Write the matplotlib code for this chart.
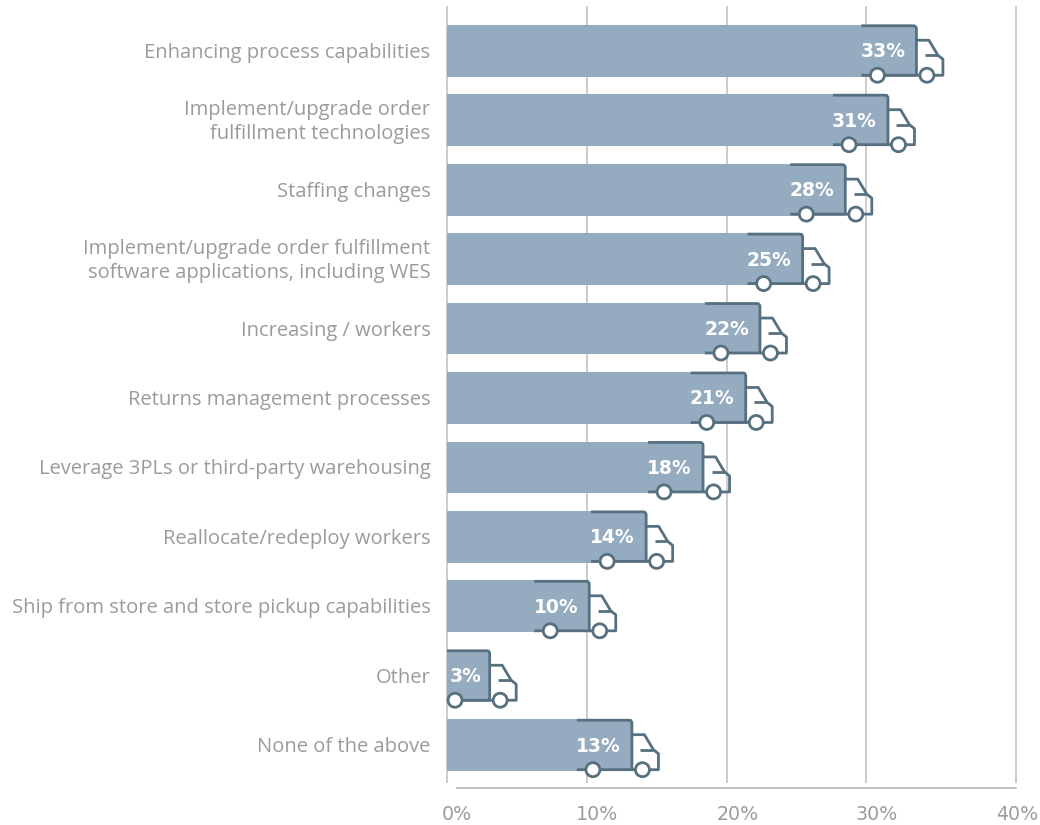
import matplotlib
matplotlib.use("Agg")
import matplotlib.pyplot as plt
from matplotlib.patches import Circle, PathPatch
from matplotlib.path import Path
from matplotlib.transforms import Affine2D, blended_transform_factory

plt.rcParams['font.family'] = ['Open Sans', 'DejaVu Sans']

categories = [
    "Enhancing process capabilities",
    "Implement/upgrade order\nfulfillment technologies",
    "Staffing changes",
    "Implement/upgrade order fulfillment\nsoftware applications, including WES",
    "Increasing / workers",
    "Returns management processes",
    "Leverage 3PLs or third-party warehousing",
    "Reallocate/redeploy workers",
    "Ship from store and store pickup capabilities",
    "Other",
    "None of the above",
]
values = [33, 31, 28, 25, 22, 21, 18, 14, 10, 3, 13]

tick_labels = ["0%", "10%", "20%", "30%", "40%"]
# the gridlines are not evenly spaced on this chart
grid_pos = [0, 9.82, 19.68, 29.45, 40]
tick_label_pos = [0.7, 10.55, 20.4, 30.2, 40.1]

BAR = "#94abc0"
TRUCK = "#56707f"
GRID = "#cccccc"
AXIS = "#b2b2b2"
TEXT = "#9b9b9b"

W, H = 1040, 825
fig = plt.figure(figsize=(W / 100, H / 100), dpi=100, facecolor="white")
ax = fig.add_axes([447 / W, 1 - 782 / H, (1016 - 447) / W, (782 - 7) / H])
ax.set_xlim(0, 40)
ax.set_ylim(10.53, -0.63)

ax.set_axisbelow(True)
ax.set_xticks(grid_pos)
ax.set_xticklabels([])
ax.grid(axis="x", color=GRID, lw=1.4, clip_on=False)
ax.tick_params(length=0, labelleft=False)
ax.set_yticks([])
for side in ["top", "left", "right"]:
    ax.spines[side].set_visible(False)
ax.spines["bottom"].set_position(("outward", 4.4))
ax.spines["bottom"].set_bounds(0.68, 40)
ax.spines["bottom"].set_color(AXIS)
ax.spines["bottom"].set_linewidth(1.1)

rows = list(range(len(values)))
ax.barh(rows, values, height=0.745, color=BAR, zorder=2)

# truck outline, in pixels from the end of the bar (y points up)
LINE = 2.0


def draw_truck(value, row):
    px, py = ax.transData.transform((value, row))
    at = Affine2D().translate(px, py)
    room = px - ax.transData.transform((0, row))[0]
    tail = min(55, room)
    wheel = -min(39, room - 8)

    body = Path(
        [(-tail, 25), (-3, 25), (0, 25), (0, 22), (0, -24.5), (-tail, -24.5)],
        [Path.MOVETO, Path.LINETO, Path.CURVE3, Path.CURVE3, Path.LINETO, Path.LINETO],
    )
    cab = Path(
        [(0, 10.5), (12.5, 10.5), (21.5, -4.5), (26.5, -8.5), (26.5, -24.5), (0, -24.5)],
        [Path.MOVETO] + [Path.LINETO] * 5,
    )
    window = Path([(8.5, -4.5), (21.5, -4.5)], [Path.MOVETO, Path.LINETO])
    for path in (body, cab, window):
        ax.add_patch(PathPatch(path, fill=False, ec=TRUCK, lw=LINE, transform=at,
                               clip_on=False, zorder=3, capstyle="butt", joinstyle="round"))
    for cx in (wheel, 10.5):
        ax.add_patch(Circle((cx, -24.5), 7, fc="white", ec=TRUCK, lw=LINE,
                            transform=at, clip_on=False, zorder=4))
    label_x = -33.5 if value > 5 else -24
    ax.text(label_x, -1, f"{value}%", transform=at, color="white", fontsize=13.5,
            fontweight="bold", family=["DejaVu Sans"], ha="center", va="center", zorder=5)


for row, value in zip(rows, values):
    draw_truck(value, row)

# category labels sit left of the zero line
for row, name in zip(rows, categories):
    ax.annotate(name, (0, row), xytext=(-16.5 * 0.72, -1.5), textcoords="offset points",
                ha="right", va="center", ma="right", color=TEXT, fontsize=14.5, linespacing=1.27)

bottom = blended_transform_factory(ax.transData, ax.transAxes)
for x, label in zip(tick_label_pos, tick_labels):
    ax.text(x, -32 / 775, label, transform=bottom, ha="center", va="center",
            color=TEXT, fontsize=13.7, family=["DejaVu Sans"])

fig.savefig("out.png", dpi=100, facecolor="white")
